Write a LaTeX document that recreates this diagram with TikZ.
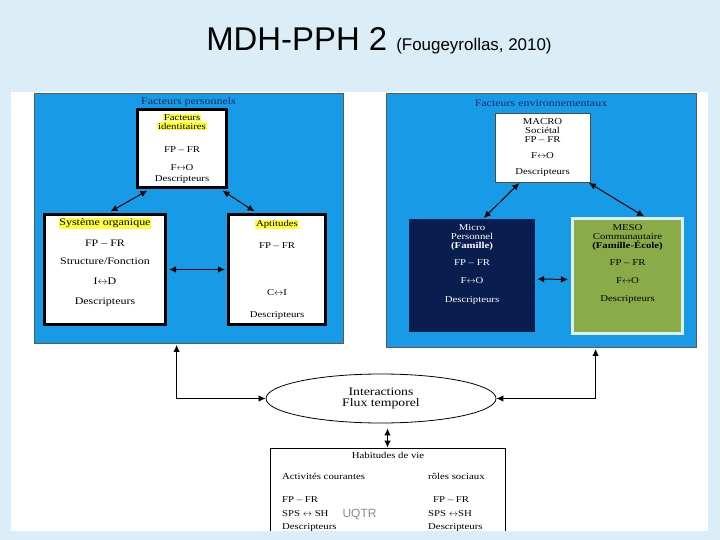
\documentclass[tikz,border=0pt]{standalone}
\usepackage{fontspec}
\setmainfont{Liberation Serif}[FakeStretch=1.2]
\newfontfamily\slidefont{Liberation Sans}
\usepackage{tikz}
\usetikzlibrary{arrows.meta,shapes.geometric}
\definecolor{slidebg}{RGB}{219,238,248}
\definecolor{panelblue}{RGB}{24,155,230}
\definecolor{navybox}{RGB}{9,29,78}
\definecolor{mesogreen}{RGB}{138,172,72}
\definecolor{mesoedge}{RGB}{222,240,242}
\definecolor{headnavy}{RGB}{30,40,100}
\definecolor{hlyellow}{RGB}{255,255,60}
\newcommand{\hlt}[1]{{\setlength{\fboxsep}{0.8pt}\colorbox{hlyellow}{#1}}}

\begin{document}
\begin{tikzpicture}[x=1bp, y=-1bp,
  every node/.style={font=\fontsize{9}{10}\selectfont},
  panel/.style={fill=panelblue, draw=black!65, line width=0.8bp, inner sep=0},
  panelhead/.style={text=headnavy, font=\fontsize{10}{11}\selectfont},
  thickbox/.style={draw, line width=3bp, fill=white, align=center, inner sep=0},
  thinbox/.style={draw=black!70, line width=0.6bp, fill=white, align=center, inner sep=0},
  link/.style={<->, line width=1bp},
  >={Latex[length=7bp,width=6.5bp]}]
  \useasboundingbox (0,0) rectangle (720,540);
  \fill[slidebg] (0,0) rectangle (720,540);
  \fill[white] (11,92) rectangle (708,531);

  % titre
  \node[anchor=base, font=\slidefont] (title) at (379,51) {\fontsize{33}{36}\selectfont MDH-PPH 2 \fontsize{17}{20}\selectfont(Fougeyrollas, 2010)};

  % facteurs personnels
  \node[panel, minimum width=309bp, minimum height=250bp] (pers) at (188.5,218) {};
  \node[panelhead] (persh) at (188.5,102) {Facteurs personnels};
  \node[thickbox, minimum width=89bp, minimum height=78bp] (ident) at (182,148.5) {\hlt{Facteurs}\\[-1bp]\hlt{identitaires}\\[13bp]FP -- FR\\[8bp]F$\leftrightarrow$O\\[1bp]Descripteurs};
  \node[thickbox, minimum width=121bp, minimum height=110bp, font=\fontsize{10}{11}\selectfont] (sys) at (105,269.5) {\hlt{Système organique}\\[10bp]FP -- FR\\[7bp]Structure/Fonction\\[9bp]I$\leftrightarrow$D\\[9bp]Descripteurs\\[5bp]\mbox{}};
  \node[thickbox, minimum width=97bp, minimum height=110bp] (apt) at (277,269.5) {\hlt{Aptitudes}\\[12bp]FP -- FR\\[37bp]C$\leftrightarrow$I\\[12bp]Descripteurs};

  % facteurs environnementaux
  \node[panel, minimum width=310bp, minimum height=254bp] (env) at (541,220) {};
  \node[panelhead] (envh) at (541,103) {Facteurs environnementaux};
  \node[thinbox, minimum width=95bp, minimum height=69bp] (macro) at (542.5,147.5) {MACRO\\[-1bp]Sociétal\\[-1bp]FP -- FR\\[6bp]F$\leftrightarrow$O\\[6bp]Descripteurs};
  \node[fill=navybox, text=white, align=center, inner sep=0, minimum width=126bp, minimum height=113bp] (micro) at (472,275.5) {Micro\\[-1bp]Personnel\\[-1bp]\textbf{(Famille)}\\[8bp]FP -- FR\\[8bp]F$\leftrightarrow$O\\[9bp]Descripteurs\\[14bp]\mbox{}};
  \node[fill=mesogreen, draw=mesoedge, line width=3bp, align=center, inner sep=0, minimum width=110bp, minimum height=115bp] (meso) at (627.5,276) {MESO\\[-1bp]Communautaire\\[-1bp]\textbf{(Famille-École)}\\[8bp]FP -- FR\\[8bp]F$\leftrightarrow$O\\[8bp]Descripteurs\\[16bp]\mbox{}};

  % interactions et habitudes de vie
  \node[ellipse, draw, line width=0.8bp, fill=white, align=center, minimum width=230bp, minimum height=49bp, inner sep=0, font=\fontsize{11.5}{11}\selectfont] (inter) at (381,398.5) {Interactions\\Flux temporel};
  \node[draw, line width=0.8bp, minimum width=235bp, minimum height=100bp, inner sep=0] (hab) at (387.5,498) {};
  \node (habh) at (388,455) {Habitudes de vie};
  \node[anchor=north west, align=left, inner sep=0] (habl) at (282,473) {Activités courantes\\[13bp]FP -- FR\\[4bp]SPS $\leftrightarrow$ SH\\[3bp]Descripteurs};
  \node[anchor=north west, align=left, inner sep=0] (habr) at (428,473) {rôles sociaux\\[13bp]\hspace{5bp}FP -- FR\\[4bp]SPS $\leftrightarrow$SH\\[3bp]Descripteurs};
  \node[font=\slidefont\fontsize{12}{14}\selectfont, text=black!45] (uqtr) at (359.5,514) {UQTR};

  \draw[link, shorten <=3bp, shorten >=3bp] ([xshift=-32bp]ident.south) -- ([xshift=3bp]sys.north);
  \draw[link, shorten <=3bp, shorten >=3bp] ([xshift=38bp]ident.south) -- ([xshift=-20bp]apt.north);
  \draw[link, shorten <=2bp, shorten >=2bp] (sys.east) -- (apt.west);
  \draw[link, shorten <=1bp, shorten >=1bp] ([xshift=-22.5bp]macro.south) -- ([xshift=11bp]micro.north);
  \draw[link, shorten <=1bp, shorten >=1bp] ([xshift=45.5bp]macro.south) -- ([xshift=17.5bp]meso.north);
  \draw[link, shorten <=2bp, shorten >=3bp] ([yshift=-3.5bp]micro.east) -- ([yshift=-3.5bp]meso.west);
  \draw[link, shorten >=1.5bp] (inter.west) -| ([xshift=143bp]pers.south west);
  \draw[link, shorten >=1.5bp] (inter.east) -| ([xshift=210bp]env.south west);
  \draw[link, shorten <=5bp] (hab.north |- inter.south) -- (hab.north);

  \fill[slidebg] (0,531) rectangle (720,540);
\end{tikzpicture}
\end{document}
